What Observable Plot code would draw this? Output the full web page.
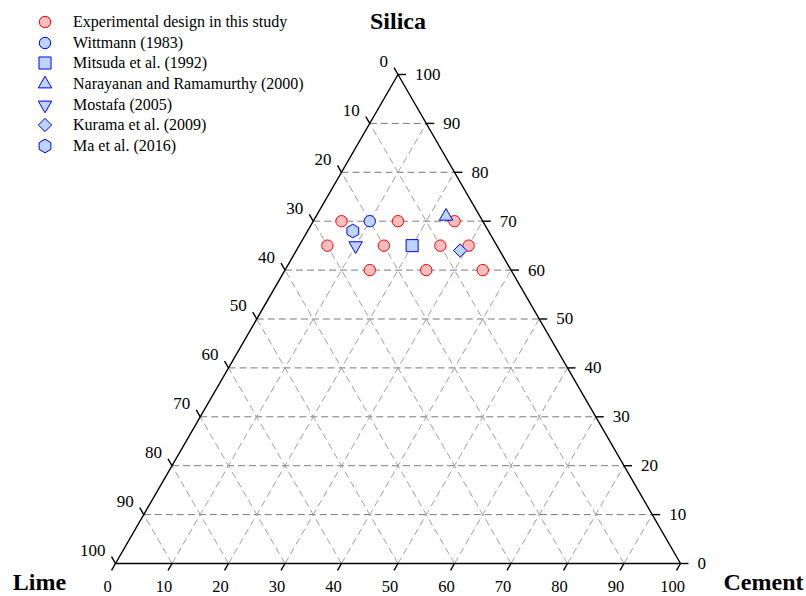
<!DOCTYPE html>
<html>
<head>
<meta charset="utf-8">
<script src="https://cdn.jsdelivr.net/npm/d3@7"></script>
<script src="https://cdn.jsdelivr.net/npm/@observablehq/plot@0.6"></script>
<style>
  body { margin: 0; background: #fff; }
  #wrap { position: relative; width: 806px; height: 596px; font-family: "Liberation Serif", "Times New Roman", serif; }
  #legend { position: absolute; left: 37px; top: 12px; }
  .row { display: flex; align-items: center; height: 20.6px; font-size: 16px; color: #000; white-space: nowrap; }
  .row svg { width: 16px; height: 16px; margin-right: 20px; overflow: visible; }
</style>
</head>
<body>
<div id="wrap"><div id="chart"></div><div id="legend"></div></div>
<script>
// ---- data ----
const seriesNames = [
  "Experimental design in this study",
  "Wittmann (1983)",
  "Mitsuda et al. (1992)",
  "Narayanan and Ramamurthy (2000)",
  "Mostafa (2005)",
  "Kurama et al. (2009)",
  "Ma et al. (2016)"
];
const silicaValues = [[70, 70, 70, 65, 65, 65, 65, 60, 60, 60], [70], [65], [71], [65], [64], [68]];
const cementValues = [[5, 15, 25, 5, 15, 25, 30, 15, 25, 35], [10], [20], [23], [10], [29], [8]];
const limeValues   = [[25, 15, 5, 30, 20, 10, 5, 25, 15, 5], [20], [15], [6], [25], [7], [24]];
const tickValues = [0, 10, 20, 30, 40, 50, 60, 70, 80, 90, 100];
const axisTitles = { silica: "Silica", lime: "Lime", cement: "Cement" };

// ---- styles ----
const triangleDown = {
  draw(context, size) {
    const y = Math.sqrt(size / (Math.sqrt(3) * 3));
    context.moveTo(0, 2 * y);
    context.lineTo(-Math.sqrt(3) * y, -y);
    context.lineTo(Math.sqrt(3) * y, -y);
    context.closePath();
  }
};
const hexagon = {
  draw(context, size) {
    const R = Math.sqrt(size / Math.PI);
    for (let k = 0; k < 6; k++) {
      const a = -Math.PI / 2 + k * Math.PI / 3;
      const X = R * Math.cos(a), Y = R * Math.sin(a);
      if (k === 0) context.moveTo(X, Y); else context.lineTo(X, Y);
    }
    context.closePath();
  }
};
const symbols = [d3.symbolCircle, d3.symbolCircle, d3.symbolSquare, d3.symbolTriangle, triangleDown, d3.symbolDiamond2, hexagon];
const radii = [5.7, 5.7, 6.8, 5, 5, 6, 6.8];
const fills = ["#ffbdbd", "#bcd4ff", "#bcd4ff", "#bcd4ff", "#bcd4ff", "#bcd4ff", "#bcd4ff"];
const strokes = ["#ff0000", "#0000ff", "#0000ff", "#0000ff", "#0000ff", "#0000ff", "#0000ff"];

// ---- ternary helpers (silica s, cement c; lime = 100 - s - c) ----
const H = Math.sqrt(3) / 2;
const px = (s, c) => c / 100 + s / 200;
const py = (s) => (s / 100) * H;
const gridVals = tickValues.slice(1, -1);
const tl = 8 / 565; // tick length in data units

const sides = [
  { s1: 0, c1: 0, s2: 0, c2: 100 },
  { s1: 0, c1: 100, s2: 100, c2: 0 },
  { s1: 100, c1: 0, s2: 0, c2: 0 }
];

const dash = "7,4";
const marks = [
  // silica grid (horizontal)
  Plot.link(gridVals, { x1: s => px(s, 0), y1: s => py(s), x2: s => px(s, 100 - s), y2: s => py(s), stroke: "#7a7a7a", strokeWidth: 1, strokeDasharray: dash }),
  // cement grid
  Plot.link(gridVals, { x1: c => px(0, c), y1: () => 0, x2: c => px(100 - c, c), y2: c => py(100 - c), stroke: "#a0a0a0", strokeWidth: 1, strokeDasharray: dash }),
  // lime grid
  Plot.link(gridVals, { x1: l => px(0, 100 - l), y1: () => 0, x2: l => px(100 - l, 0), y2: l => py(100 - l), stroke: "#a0a0a0", strokeWidth: 1, strokeDasharray: dash }),
  // triangle edges
  Plot.link(sides, { x1: d => px(d.s1, d.c1), y1: d => py(d.s1), x2: d => px(d.s2, d.c2), y2: d => py(d.s2), stroke: "#000", strokeWidth: 1.4, strokeLinecap: "round" }),
  // ticks: cement (bottom)
  Plot.link(tickValues, { x1: v => px(0, v), y1: () => 0, x2: v => px(0, v) - 0.5 * tl, y2: () => -H * tl, stroke: "#000", strokeWidth: 1.4 }),
  // ticks: silica (right)
  Plot.link(tickValues, { x1: v => px(v, 100 - v), y1: v => py(v), x2: v => px(v, 100 - v) + tl, y2: v => py(v), stroke: "#000", strokeWidth: 1.4 }),
  // ticks: lime (left)
  Plot.link(tickValues, { x1: v => px(100 - v, 0), y1: v => py(100 - v), x2: v => px(100 - v, 0) - 0.5 * tl, y2: v => py(100 - v) + H * tl, stroke: "#000", strokeWidth: 1.4 }),
  // tick labels
  Plot.text(tickValues, { x: v => px(0, v), y: () => 0, text: v => String(v), dx: -8, dy: 23, fontSize: 16.5, textAnchor: "middle", lineAnchor: "middle" }),
  Plot.text(tickValues, { x: v => px(v, 100 - v), y: v => py(v), text: v => String(v), dx: 17, dy: 0, fontSize: 17, textAnchor: "start", lineAnchor: "middle" }),
  Plot.text(tickValues, { x: v => px(100 - v, 0), y: v => py(100 - v), text: v => String(v), dx: -10, dy: -13, fontSize: 17, textAnchor: "end", lineAnchor: "middle" }),
  // axis titles
  Plot.text([axisTitles.silica], { x: () => px(100, 0), y: () => py(100), text: d => d, dy: -46, fontSize: 24, fontWeight: "bold", textAnchor: "middle", lineAnchor: "bottom" }),
  Plot.text([axisTitles.lime], { x: () => px(0, 0), y: () => 0, text: d => d, dx: -76, dy: 26, fontSize: 24, fontWeight: "bold", textAnchor: "middle", lineAnchor: "bottom" }),
  Plot.text([axisTitles.cement], { x: () => px(0, 100), y: () => 0, text: d => d, dx: 83, dy: 26, fontSize: 24, fontWeight: "bold", textAnchor: "middle", lineAnchor: "bottom" })
];

// data points
seriesNames.forEach((name, i) => {
  const idx = d3.range(silicaValues[i].length);
  marks.push(Plot.dot(idx, {
    x: j => px(silicaValues[i][j], cementValues[i][j]),
    y: j => py(silicaValues[i][j]),
    r: radii[i],
    symbol: symbols[i],
    fill: fills[i],
    stroke: strokes[i],
    strokeWidth: 1,
    title: j => `${name}: Silica ${silicaValues[i][j]}, Cement ${cementValues[i][j]}, Lime ${limeValues[i][j]}`
  }));
});

const chart = Plot.plot({
  width: 806,
  height: 596,
  marginLeft: 115,
  marginRight: 126,
  marginTop: 74,
  marginBottom: 33,
  x: { domain: [0, 1], axis: null },
  y: { domain: [0, H], axis: null },
  style: { fontFamily: "Liberation Serif, 'Times New Roman', serif", background: "#fff", color: "#000" },
  marks
});
document.getElementById("chart").appendChild(chart);

// legend
const legend = d3.select("#legend");
seriesNames.forEach((name, i) => {
  const row = legend.append("div").attr("class", "row");
  const svg = row.append("svg").attr("viewBox", "-8 -8 16 16");
  svg.append("path")
    .attr("d", d3.symbol(symbols[i], Math.PI * radii[i] * radii[i])())
    .attr("fill", fills[i])
    .attr("stroke", strokes[i])
    .attr("stroke-width", 1);
  row.append("span").text(name);
});
</script>
</body>
</html>
